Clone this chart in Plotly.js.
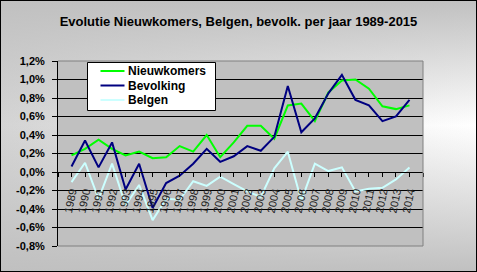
<!DOCTYPE html>
<html>
<head>
<meta charset="utf-8">
<script src="https://cdn.plot.ly/plotly-3.0.1.min.js"></script>
<style>
  html, body { margin: 0; padding: 0; }
  #wrap { position: relative; width: 477px; height: 272px; overflow: hidden;
    background:
      linear-gradient(to bottom, #c0c0c0 0%, rgba(192,192,192,0) 46%, #c0c0c0 100%),
      linear-gradient(to right, #d4d4d4 0%, #ffffff 100%);
  }
  #chart { position: absolute; left: 0; top: 0; width: 477px; height: 272px; }
  #frame { position: absolute; left: 0; top: 0; width: 477px; height: 272px;
    box-sizing: border-box; border: 1px solid #000; pointer-events: none; }
</style>
</head>
<body>
<div id="wrap"><div id="chart"></div><div id="frame"></div></div>
<script>
const years = [1989,1990,1991,1992,1993,1994,1995,1996,1997,1998,1999,2000,2001,
               2002,2003,2004,2005,2006,2007,2008,2009,2010,2011,2012,2013,2014];
const yearLabels = years.map(String);
// values in percent
const nieuwkomers = [0.18,0.25,0.35,0.25,0.18,0.22,0.15,0.16,0.28,0.22,0.40,0.16,0.32,
                     0.50,0.50,0.36,0.72,0.74,0.55,0.86,0.99,1.00,0.90,0.71,0.68,0.72];
const bevolking   = [0.06,0.34,0.05,0.32,-0.19,0.09,-0.39,-0.12,-0.04,0.09,0.25,0.11,0.17,
                     0.28,0.23,0.38,0.93,0.43,0.58,0.85,1.05,0.78,0.72,0.55,0.60,0.78];
const belgen      = [-0.11,0.10,-0.29,0.09,-0.36,-0.14,-0.52,-0.29,-0.30,-0.10,-0.15,-0.05,-0.13,
                     -0.21,-0.27,0.04,0.22,-0.31,0.09,0.01,0.05,-0.21,-0.18,-0.17,-0.08,0.05];
const seriesNames = ['Nieuwkomers','Bevolking','Belgen'];
const seriesColors = ['#00ff00','#000080','#ccffff'];
const yTicks = [-0.8,-0.6,-0.4,-0.2,0,0.2,0.4,0.6,0.8,1.0,1.2];
const yTickText = yTicks.map(v => v.toFixed(1).replace('.', ',') + '%');

const font = 'Liberation Sans, Arial, sans-serif';
const allData = [nieuwkomers, bevolking, belgen];
const traces = allData.map((d, k) => ({
  type: 'scatter', mode: 'lines', x: years, y: d, name: seriesNames[k],
  line: { color: seriesColors[k], width: 2 }, showlegend: false
}));

const xTickVals = [years[0]-1].concat(years, [years[years.length-1]+1]);
const xTickText = [''].concat(yearLabels, ['']);

// legend box geometry (pixels of the page -> plot-area paper fractions)
const PL = 58, PW = 365, PB = 246, PH = 185;
const px = v => (v - PL) / PW;
const py = v => (PB - v) / PH;
const legRowY = [71, 85.5, 100];

const shapes = [
  { type: 'line', xref: 'paper', yref: 'paper', x0: 0, x1: 1, y0: 1, y1: 1, line: { color: '#808080', width: 1 } },
  { type: 'line', xref: 'paper', yref: 'paper', x0: 1, x1: 1, y0: 0, y1: 1, line: { color: '#808080', width: 1 } },
  { type: 'line', xref: 'paper', yref: 'paper', x0: 0, x1: 1, y0: 0, y1: 0, line: { color: '#808080', width: 1 } },
  { type: 'rect', xref: 'paper', yref: 'paper', x0: px(87.5), x1: px(215.5), y0: py(110.5), y1: py(62.5),
    fillcolor: '#ffffff', line: { color: '#000', width: 1 } }
];
const annotations = [];
seriesNames.forEach((n, k) => {
  shapes.push({ type: 'line', xref: 'paper', yref: 'paper', x0: px(100.5), x1: px(124.5),
    y0: py(legRowY[k]), y1: py(legRowY[k]), line: { color: seriesColors[k], width: 2 } });
  annotations.push({ xref: 'paper', yref: 'paper', x: px(125.5), y: py(legRowY[k]),
    xanchor: 'left', yanchor: 'middle', showarrow: false, text: n,
    font: { family: font, size: 12, color: '#000', weight: 'bold' } });
});

const layout = {
  width: 477, height: 272,
  margin: { l: 58, r: 54, t: 61, b: 26, pad: 0 },
  paper_bgcolor: 'rgba(0,0,0,0)',
  plot_bgcolor: '#c0c0c0',
  showlegend: false,
  title: {
    text: 'Evolutie Nieuwkomers, Belgen, bevolk. per jaar 1989-2015',
    font: { family: font, size: 13, color: '#000', weight: 'bold' },
    x: 0.5, xanchor: 'center', y: 1 - 21.5/272, yanchor: 'middle'
  },
  xaxis: {
    range: [years[0]-1, years[years.length-1]+1],
    tickmode: 'array', tickvals: xTickVals, ticktext: xTickText,
    tickangle: -78,
    tickfont: { family: font, size: 11, color: '#222' },
    ticks: 'outside', ticklen: 4, tickcolor: '#000', tickwidth: 1,
    ticklabelstandoff: 4,
    showgrid: false, zeroline: false,
    showline: true, linecolor: '#000', linewidth: 1,
    anchor: 'free', position: 0.4
  },
  yaxis: {
    range: [-0.8, 1.2],
    tickmode: 'array', tickvals: yTicks, ticktext: yTickText,
    tickfont: { family: font, size: 11, color: '#000', weight: 'bold' },
    ticks: 'outside', ticklen: 5, tickcolor: '#000', tickwidth: 1,
    ticklabelstandoff: 5,
    showgrid: true, gridcolor: '#000', gridwidth: 1,
    zeroline: false, showline: true, linecolor: '#000', linewidth: 1
  },
  shapes: shapes,
  annotations: annotations
};

Plotly.newPlot('chart', traces, layout, { displayModeBar: false, staticPlot: true });
</script>
</body>
</html>
